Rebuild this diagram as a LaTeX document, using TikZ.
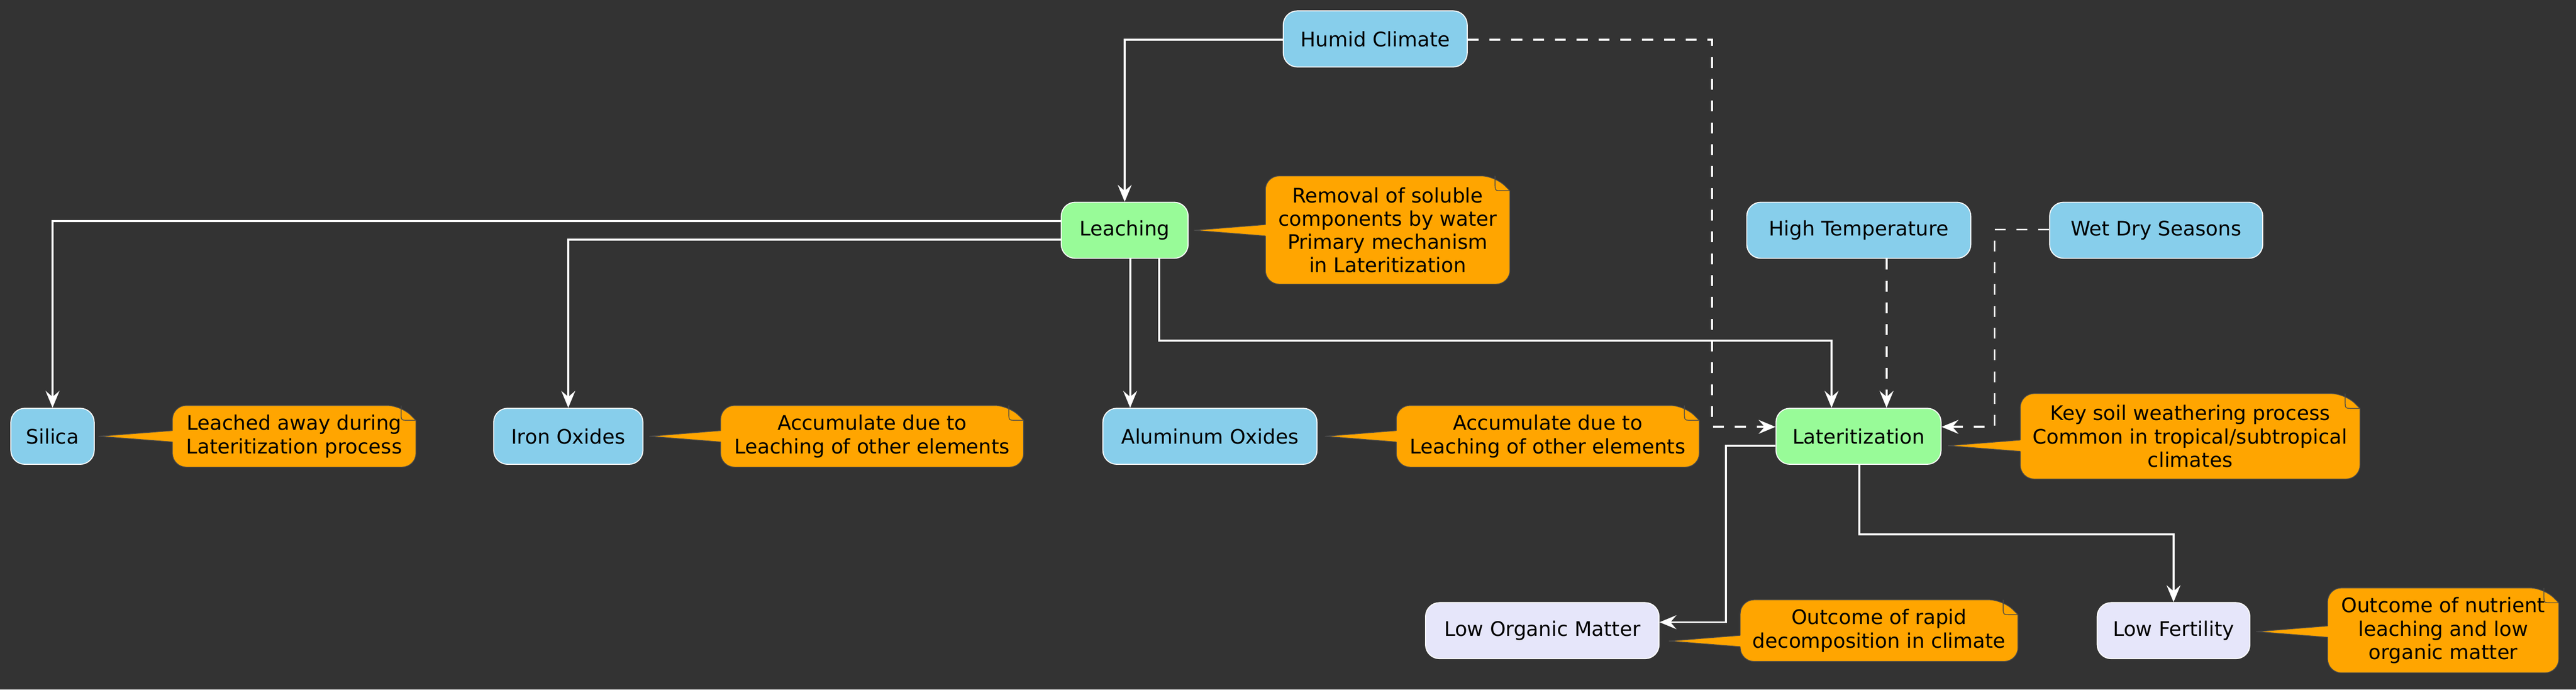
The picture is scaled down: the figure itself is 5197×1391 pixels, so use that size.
\documentclass[tikz,border=0pt]{standalone}
\usepackage{fontspec}
\setmainfont{DejaVu Sans}
\usetikzlibrary{arrows.meta,calc}
\definecolor{bgc}{HTML}{333333}
\definecolor{skyb}{HTML}{87CEEB}
\definecolor{paleg}{HTML}{98FB98}
\definecolor{lav}{HTML}{E6E6FA}
\definecolor{orng}{HTML}{FFA500}
\definecolor{edgec}{HTML}{4A4A4A}
\newcommand\fs{\fontsize{40.5}{47}\selectfont}
\tikzset{
  box/.style={rectangle, rounded corners=28pt, draw=white, line width=2pt,
    minimum height=113pt, inner sep=0pt, font=\fs, text=black},
  bluebox/.style={box, fill=skyb},
  greenbox/.style={box, fill=paleg},
  lavbox/.style={box, fill=lav},
  notetext/.style={rectangle, inner sep=0pt, align=center, font=\fs, text=black},
  conn/.style={draw=white, line width=4pt, -{Stealth[length=34pt,width=28pt,inset=12pt]}},
  dconn/.style={conn, dash pattern=on 22pt off 22pt},
}
% #1 note node, #2 tip coordinate
\newcommand\drawnote[2]{%
  \filldraw[fill=orng, draw=edgec, line width=1.5pt] (#1.north east) ++(0,30) [rounded corners=28pt] -- (#1.south east) -- (#1.south west) -- (#1.north west) -- ($(#1.north east)+(-30,0)$) [sharp corners] -- cycle;
  \fill[orng] ($(#1.west|-#2)+(3,-11.5)$) -- (#2) -- ($(#1.west|-#2)+(3,11.5)$) -- cycle;
  \draw[edgec, line width=1.5pt] ($(#1.west|-#2)+(0,-11.5)$) -- (#2) -- ($(#1.west|-#2)+(0,11.5)$);
  \draw[edgec, line width=1.5pt] ($(#1.north east)+(-30,0)$) -- ($(#1.north east)+(-30,15)$) .. controls ($(#1.north east)+(-30,30)$) .. ($(#1.north east)+(-15,30)$) -- ($(#1.north east)+(0,30)$);
}
\begin{document}
\begin{tikzpicture}[x=1pt,y=-1pt]
\fill[bgc] (0,0) rectangle (5197,1391);
\useasboundingbox (0,0) rectangle (5197,1391);

% nodes
\node[bluebox, minimum width=371pt] (Humid) at (2774.5,78.5) {Humid Climate};
\node[greenbox, minimum width=256pt] (Leaching) at (2269,464.5) {Leaching};
\node[bluebox, minimum width=452pt] (HighT) at (3750,464.5) {High Temperature};
\node[bluebox, minimum width=430pt] (WetDry) at (4350,464.5) {Wet Dry Seasons};
\node[bluebox, minimum width=168pt] (Silica) at (106,880) {Silica};
\node[bluebox, minimum width=301pt] (Iron) at (1146.5,880) {Iron Oxides};
\node[bluebox, minimum width=432pt] (Al) at (2441,880) {Aluminum Oxides};
\node[greenbox, minimum width=333pt] (Lat) at (3749.5,880) {Lateritization};
\node[lavbox, minimum width=471pt] (LowOrg) at (3111.5,1272) {Low Organic Matter};
\node[lavbox, minimum width=308pt] (LowFert) at (4385,1272) {Low Fertility};

% notes
\node[notetext, minimum width=493pt, minimum height=218pt] (nRem) at (2799.5,464) {};
\node[notetext, minimum width=491pt, minimum height=124pt] (nSil) at (593.5,880) {};
\node[notetext, minimum width=611pt, minimum height=124pt] (nIron) at (1759.5,880) {};
\node[notetext, minimum width=611pt, minimum height=124pt] (nAl) at (3122.5,880) {};
\node[notetext, minimum width=685pt, minimum height=172pt] (nLat) at (4418.5,880) {};
\node[notetext, minimum width=560pt, minimum height=124pt] (nOrg) at (3791,1272) {};
\node[notetext, minimum width=466pt, minimum height=171pt] (nFert) at (4929,1271.5) {};

\coordinate (tRem) at ($(Leaching.east)+(11,0)$);
\coordinate (tSil) at ($(Silica.east)+(8,0)$);
\coordinate (tIron) at ($(Iron.east)+(12,0)$);
\coordinate (tAl) at ($(Al.east)+(15,0)$);
\coordinate (tLat) at ($(Lat.east)+(13,19)$);
\coordinate (tOrg) at ($(LowOrg.east)+(19,21)$);
\coordinate (tFert) at ($(LowFert.east)+(12,2)$);

\drawnote{nRem}{tRem}
\drawnote{nSil}{tSil}
\drawnote{nIron}{tIron}
\drawnote{nAl}{tAl}
\drawnote{nLat}{tLat}
\drawnote{nOrg}{tOrg}
\drawnote{nFert}{tFert}

\node[notetext] at (nRem) {Removal of soluble\\components by water\\Primary mechanism\\in Lateritization};
\node[notetext] at (nSil) {Leached away during\\Lateritization process};
\node[notetext] at (nIron) {Accumulate due to\\Leaching of other elements};
\node[notetext] at (nAl) {Accumulate due to\\Leaching of other elements};
\node[notetext] at (nLat) {Key soil weathering process\\Common in tropical/subtropical\\climates};
\node[notetext] at (nOrg) {Outcome of rapid\\decomposition in climate};
\node[notetext] at (nFert) {Outcome of nutrient\\leaching and low\\organic matter};

% turning points
\coordinate (hcturn) at (3454,861);
\coordinate (wdturn) at (4024,861);
\coordinate (loturn) at (3482,1255);

% connectors
\draw[conn] ($(Humid.west)+(0,1.5)$) -| (Leaching.north);
\draw[dconn] ($(Humid.east)+(0,1.5)$) -| (hcturn) -- ($(Lat.west)+(0,-19)$);
\draw[conn] ($(Leaching.west)+(0,-18.5)$) -| (Silica.north);
\draw[conn] ($(Leaching.west)+(0,18.5)$) -| (Iron.north);
\draw[conn] ($(Leaching.south)+(11,0)$) coordinate (la) -- (la |- Al.north);
\draw[conn] ($(Leaching.south)+(70,0)$) -- ++(0,165) -| ($(Lat.north)+(-54.5,0)$);
\draw[dconn] ($(HighT.south)+(56,0)$) coordinate (ht) -- (ht |- Lat.north);
\draw[dconn] ($(WetDry.west)+(0,-1.5)$) -| (wdturn) -- ($(Lat.east)+(0,-19)$);
\draw[conn] ($(Lat.west)+(0,19)$) -| (loturn) -- ($(LowOrg.east)+(0,-17)$);
\draw[conn] ($(Lat.south)+(1.5,0)$) -- ++(0,140) -| (LowFert.north);
\end{tikzpicture}
\end{document}
